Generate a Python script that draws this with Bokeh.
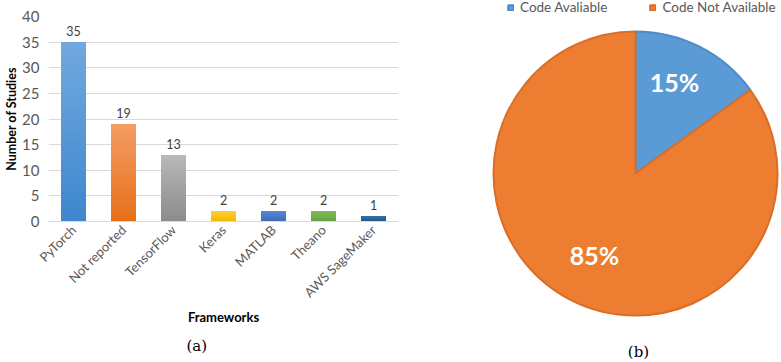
import math
from bokeh.plotting import figure
from bokeh.layouts import row
from bokeh.core.properties import value
from bokeh.models import (ColumnDataSource, LabelSet, Label, SingleIntervalTicker,
                          Legend, LegendItem, Range1d, Title)
from bokeh.embed import file_html
from bokeh.resources import INLINE

# ---------------- data ----------------
frameworks = ["PyTorch", "Not reported", "TensorFlow", "Keras", "MATLAB", "Theano", "AWS SageMaker"]
studies = [35, 19, 13, 2, 2, 2, 1]
bar_top_colors = ["#70a8df", "#f39c64", "#b8b8b8", "#ffcd3c", "#5a85d0", "#80ba58", "#3a6fa0"]
bar_bottom_colors = ["#3f88cd", "#e8701b", "#8c8c8c", "#f5b800", "#3f6bbd", "#66a33f", "#1f5688"]

code_labels = ["Code Avaliable", "Code Not Available"]
code_share = [15, 85]
pie_colors = ["#5b9bd5", "#ed7d31"]
pie_line_colors = ["#4f8cc6", "#d96e27"]

FONT = "Lato"
TXT = "#595959"


def mix(c1, c2, t):
    a = [int(c1[i:i + 2], 16) for i in (1, 3, 5)]
    b = [int(c2[i:i + 2], 16) for i in (1, 3, 5)]
    return "#%02x%02x%02x" % tuple(round(a[k] + (b[k] - a[k]) * t) for k in range(3))


# ---------------- bar chart ----------------
p1 = figure(x_range=frameworks, y_range=Range1d(0, 40), width=420, height=362,
            output_backend="svg", toolbar_location=None,
            min_border_left=48, min_border_top=16, min_border_bottom=141, min_border_right=22)
p1.frame_align = False
p1.outline_line_color = None
p1.background_fill_color = None
p1.border_fill_color = None

# gradient bars: layered slices from bottom to top
N = 24
xs, bots, tops, cols = [], [], [], []
for k in range(N):
    t = k / (N - 1)
    for i, fw in enumerate(frameworks):
        xs.append(fw)
        bots.append(studies[i] * k / N)
        tops.append(studies[i])
        cols.append(mix(bar_bottom_colors[i], bar_top_colors[i], t))
p1.vbar(x=xs, bottom=bots, top=tops, width=0.5, fill_color=cols, line_color=None)

src = ColumnDataSource(dict(fw=frameworks, n=studies, lab=[str(v) for v in studies]))
p1.add_layout(LabelSet(x="fw", y="n", text="lab", source=src, text_align="center",
                       text_baseline="bottom", y_offset=6, text_font=value(FONT),
                       text_font_size="12.5px", text_color="#404040"))

p1.yaxis.ticker = SingleIntervalTicker(interval=5)
p1.yaxis.axis_line_color = None
p1.yaxis.major_tick_line_color = None
p1.yaxis.minor_tick_line_color = None
p1.yaxis.major_tick_out = 0
p1.yaxis.major_tick_in = 0
p1.yaxis.minor_tick_out = 0
p1.yaxis.major_label_text_font = FONT
p1.yaxis.major_label_text_font_size = "15px"
p1.yaxis.major_label_text_color = TXT
p1.yaxis.major_label_standoff = 9
p1.yaxis.axis_label = "Number of Studies"
p1.yaxis.axis_label_text_font = FONT
p1.yaxis.axis_label_text_font_style = "bold"
p1.yaxis.axis_label_text_font_size = "12.5px"
p1.yaxis.axis_label_text_color = "#000000"
p1.yaxis.axis_label_standoff = 0

p1.xaxis.axis_line_color = "#d9d9d9"
p1.xaxis.major_tick_line_color = None
p1.xaxis.minor_tick_line_color = None
p1.xaxis.major_tick_out = 0
p1.xaxis.major_tick_in = 0
p1.xaxis.major_label_orientation = math.pi / 4
p1.xaxis.major_label_text_font = FONT
p1.xaxis.major_label_text_font_size = "13px"
p1.xaxis.major_label_text_color = TXT
p1.xaxis.major_label_standoff = 6
p1.xaxis.axis_label = "Frameworks"
p1.xaxis.axis_label_text_font = FONT
p1.xaxis.axis_label_text_font_style = "bold"
p1.xaxis.axis_label_text_font_size = "13px"
p1.xaxis.axis_label_text_color = "#000000"
p1.xaxis.axis_label_standoff = 0

p1.xgrid.grid_line_color = None
p1.ygrid.grid_line_color = "#d9d9d9"

# caption (a)
p1.add_layout(Title(text="(a)", align="left", offset=138, standoff=15,
                    text_font="DejaVu Serif", text_font_size="15px",
                    text_font_style="normal", text_color="#000000"), "below")

# ---------------- pie chart ----------------
W2, H2 = 361, 362
p2 = figure(width=W2, height=H2, x_range=Range1d(0, W2), y_range=Range1d(0, H2),
            output_backend="svg", toolbar_location=None, min_border=0)
p2.frame_align = False
p2.axis.visible = False
p2.grid.visible = False
p2.outline_line_color = None
p2.background_fill_color = None
p2.border_fill_color = None

cx, cy, R = 215, 189, 142
total = sum(code_share)
renderers = []
start = math.pi / 2
for i, v in enumerate(code_share):
    end = start - 2 * math.pi * v / total
    r = p2.wedge(x=cx, y=cy, radius=R, start_angle=start, end_angle=end, direction="clock",
                 fill_color=pie_colors[i], line_color=pie_line_colors[i], line_width=2)
    renderers.append(r)
    start = end

pct_pos = [(254, 281), (174, 108)]
for i, v in enumerate(code_share):
    p2.add_layout(Label(x=pct_pos[i][0], y=pct_pos[i][1], text=f"{v}%", text_align="center",
                        text_baseline="middle", text_font=FONT, text_font_style="bold",
                        text_font_size="25px", text_color="#ffffff"))

legend = Legend(items=[LegendItem(label=code_labels[i], renderers=[renderers[i]]) for i in range(2)],
                orientation="horizontal", location=(87, 347), label_text_font=FONT,
                label_text_font_size="13.5px", label_text_color=TXT, glyph_width=7, glyph_height=7,
                label_standoff=6, spacing=42, padding=0, margin=0, border_line_color=None,
                background_fill_alpha=0, label_height=14)
p2.add_layout(legend)

p2.add_layout(Label(x=218, y=11, text="(b)", text_align="center", text_baseline="middle",
                    text_font="DejaVu Serif", text_font_size="15px", text_color="#000000"))

layout = row(p1, p2)
open("out.html", "w").write(file_html(layout, INLINE))
